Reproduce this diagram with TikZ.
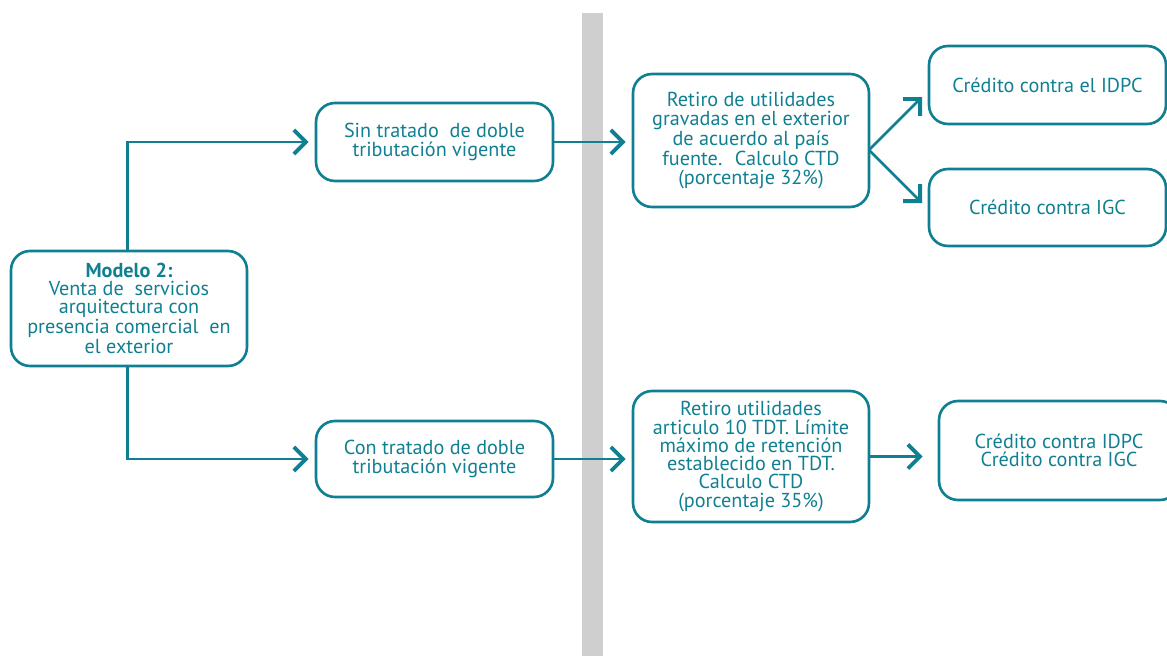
\documentclass[tikz,border=0pt]{standalone}
\usepackage{fontspec}
\setmainfont{PT Sans}
\usetikzlibrary{arrows.meta}
\definecolor{teal1}{RGB}{16,127,145}
\definecolor{bar}{RGB}{207,207,207}
\tikzset{
  box/.style={draw=teal1, line width=1.5pt, rounded corners=0.38cm, text=teal1,
    align=center, inner sep=0pt, font=\fontsize{11.5}{10.4}\selectfont},
  arr/.style={draw=teal1, line width=1.5pt, -{Straight Barb[length=2.4mm,width=4.8mm,line width=2.2pt]}}
}
\begin{document}
\begin{tikzpicture}[x=0.02cm,y=-0.02cm]
\useasboundingbox (0,0) rectangle (1167,656);
\clip (0,0) rectangle (1167,656);
\fill[bar] (582,13) rectangle (603,656);
\node[box, minimum width=4.72cm, minimum height=2.3cm] (m) at (129,308.5)
  {\textbf{Modelo 2:}\\Venta de \ servicios\\arquitectura con\\presencia comercial \ en\\el exterior};
\node[box, minimum width=4.74cm, minimum height=1.56cm] (sin) at (434.5,142)
  {Sin tratado \ de doble\\tributación vigente};
\node[box, minimum width=4.74cm, minimum height=1.52cm] (con) at (434.5,459)
  {Con tratado de doble\\tributación vigente};
\node[box, minimum width=4.72cm, minimum height=2.66cm] (r1) at (751,140.5)
  {Retiro de utilidades\\gravadas en el exterior\\de acuerdo al país\\fuente. \ Calculo CTD\\(porcentaje 32\%)};
\node[box, minimum width=4.72cm, minimum height=2.62cm] (r2) at (751,456.5)
  {Retiro utilidades\\articulo 10 TDT. Límite\\máximo de retención\\establecido en TDT.\\Calculo CTD\\(porcentaje 35\%)};
\node[box, minimum width=4.74cm, minimum height=1.56cm] (idpc) at (1047.5,85)
  {Crédito contra el IDPC};
\node[box, minimum width=4.74cm, minimum height=1.54cm] (igc) at (1047.5,207.5)
  {Crédito contra IGC};
\node[box, minimum width=4.8cm, minimum height=1.98cm] (cr) at (1059,450.5)
  {Crédito contra IDPC\\Crédito contra IGC};
\coordinate (fork) at (869,150);
\coordinate (t1) at (922,97);
\coordinate (t2) at (922,203);
\draw[arr] ([xshift=-1pt]m.north) |- ([xshift=-0.12cm]sin.west);
\draw[arr] ([xshift=-1pt]m.south) |- ([xshift=-0.12cm]con.west);
\draw[arr] (sin.east) -- ([xshift=-0.12cm]sin.east -| r1.west);
\draw[arr] (con.east) -- ([xshift=-0.12cm]con.east -| r2.west);
\draw[arr] (fork) -- (t1);
\draw[arr] (fork) -- (t2);
\draw[arr] (r2.east) -- ([xshift=-0.3cm]r2.east -| cr.west);
\end{tikzpicture}
\end{document}
